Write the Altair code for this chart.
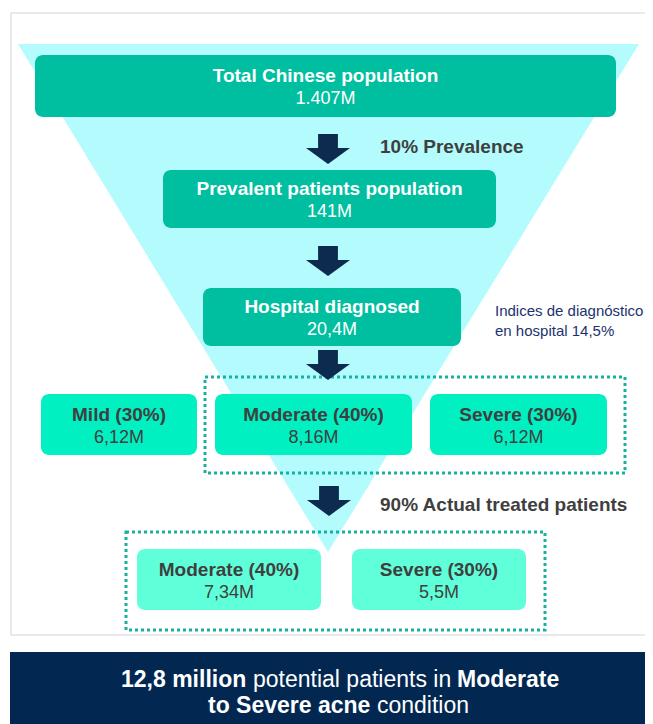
import altair as alt
import pandas as pd

# ---------------- content (values / labels) ----------------
main_titles = ["Total Chinese population", "Prevalent patients population", "Hospital diagnosed"]
main_values = ["1.407M", "141M", "20,4M"]
severity_titles = ["Mild (30%)", "Moderate (40%)", "Severe (30%)"]
severity_values = ["6,12M", "8,16M", "6,12M"]
treated_titles = ["Moderate (40%)", "Severe (30%)"]
treated_values = ["7,34M", "5,5M"]
step_labels = ["10% Prevalence", "90% Actual treated patients"]
note_lines = ["Indices de diagnóstico", "en hospital 14,5%"]
banner_line1 = ["12,8 million", "potential patients in", "Moderate"]
banner_line1_bold = [True, False, True]
banner_line2 = ["to Severe acne", "condition"]
banner_line2_bold = [True, False]

# ---------------- layout (reference pixel frame) ----------------
main_x1 = [35, 163, 203]
main_x2 = [616, 496, 461]
main_y1 = [55, 170, 288]
main_y2 = [117, 228, 346]
sev_x1 = [41, 215, 430]
sev_x2 = [197, 412, 607]
sev_y1, sev_y2 = 394, 455
trt_x1 = [137, 352]
trt_x2 = [321, 526]
trt_y1, trt_y2 = 549, 610
arrow_x = [328, 328, 328, 329]
arrow_y = [149, 261, 365, 501]
step_x = [380, 380]
step_y = [153, 511]
note_x = 495
note_y = [316, 336]
b1_x = [121, 253, 457]
b2_x = [208, 377]
b_y = [687, 713]

FONT = "Liberation Sans"
TEAL = "#00BFA0"
AQUA = "#00F0C2"
MINT = "#5FFFDA"
CYAN = "#B3FBFC"
DOT = "#17B19E"
NAVY_ARROW = "#0C2B4F"
GRAY_TXT = "#3F3F3F"
NOTE_TXT = "#1C3370"
BANNER = "#022852"

W, H = 637, 716
xs = alt.Scale(domain=[8, 8 + W], nice=False, zero=False)
ys = alt.Scale(domain=[8, 8 + H], nice=False, zero=False, reverse=True)

def X(f="x"):
    return alt.X(f"{f}:Q", scale=xs, axis=None)

def Y(f="y"):
    return alt.Y(f"{f}:Q", scale=ys, axis=None)

# ---------------- boxes ----------------
rows = []
for t, v, a, b, c, d in zip(main_titles, main_values, main_x1, main_x2, main_y1, main_y2):
    rows.append(dict(title=t, value=v, x=a, x2=b, y=c, y2=d, fill=TEAL, tc="#FFFFFF"))
for t, v, a, b in zip(severity_titles, severity_values, sev_x1, sev_x2):
    rows.append(dict(title=t, value=v, x=a, x2=b, y=sev_y1, y2=sev_y2, fill=AQUA, tc=GRAY_TXT))
for t, v, a, b in zip(treated_titles, treated_values, trt_x1, trt_x2):
    rows.append(dict(title=t, value=v, x=a, x2=b, y=trt_y1, y2=trt_y2, fill=MINT, tc=GRAY_TXT))
boxes = pd.DataFrame(rows)
boxes["cx"] = (boxes.x + boxes.x2) / 2
boxes["cy"] = (boxes.y + boxes.y2) / 2
boxes["ty"] = boxes.cy - 4
boxes["vy"] = boxes.cy + 18

frame = alt.Chart(pd.DataFrame([dict(x=11, x2=700, y=13, y2=635)])).mark_rect(
    fill="#FFFFFF", stroke="#EAEAEA", strokeWidth=2, clip=True
).encode(x=X(), x2="x2:Q", y=Y(), y2="y2:Q")

tri = alt.Chart(pd.DataFrame(dict(x=[18, 328, 639], y=[44, 44, 44], y2=[44, 552, 44]))).mark_area(
    color=CYAN, opacity=1, interpolate="linear"
).encode(x=X(), y=Y(), y2="y2:Q")

dotted = alt.Chart(pd.DataFrame(dict(x=[205, 126], x2=[625, 545], y=[377, 532], y2=[473, 630]))).mark_rect(
    fillOpacity=0, stroke=DOT, strokeWidth=3, strokeDash=[3, 3]
).encode(x=X(), x2="x2:Q", y=Y(), y2="y2:Q")

box_rects = alt.Chart(boxes).mark_rect(cornerRadius=8).encode(
    x=X(), x2="x2:Q", y=Y(), y2="y2:Q", fill=alt.Fill("fill:N", scale=None)
)

box_titles = alt.Chart(boxes).mark_text(
    font=FONT, fontSize=19, fontWeight="bold", align="center", baseline="alphabetic"
).encode(x=X("cx"), y=Y("ty"), text="title:N", color=alt.Color("tc:N", scale=None))

box_vals = alt.Chart(boxes).mark_text(
    font=FONT, fontSize=18, align="center", baseline="alphabetic"
).encode(x=X("cx"), y=Y("vy"), text="value:N", color=alt.Color("tc:N", scale=None))

arrow_path = ("M -0.45 -0.68 L 0.45 -0.68 L 0.45 -0.05 L 1 -0.05 "
              "L 0 0.68 L -1 -0.05 L -0.45 -0.05 Z")
arrows = alt.Chart(pd.DataFrame(dict(x=arrow_x, y=arrow_y))).mark_point(
    shape=arrow_path, size=44 * 44, filled=True, color=NAVY_ARROW, opacity=1, strokeWidth=0
).encode(x=X(), y=Y())

steps = alt.Chart(pd.DataFrame(dict(x=step_x, y=step_y, t=step_labels))).mark_text(
    font=FONT, fontSize=19, fontWeight="bold", color=GRAY_TXT, align="left", baseline="alphabetic"
).encode(x=X(), y=Y(), text="t:N")

note = alt.Chart(pd.DataFrame(dict(x=[note_x] * 2, y=note_y, t=note_lines))).mark_text(
    font=FONT, fontSize=15, color=NOTE_TXT, align="left", baseline="alphabetic"
).encode(x=X(), y=Y(), text="t:N")

banner = alt.Chart(pd.DataFrame([dict(x=10, x2=700, y=652, y2=760)])).mark_rect(
    color=BANNER, clip=True
).encode(x=X(), x2="x2:Q", y=Y(), y2="y2:Q")

bt = pd.DataFrame(dict(
    x=b1_x + b2_x,
    y=[b_y[0]] * len(b1_x) + [b_y[1]] * len(b2_x),
    t=banner_line1 + banner_line2,
    bold=banner_line1_bold + banner_line2_bold,
))
banner_bold = alt.Chart(bt[bt.bold]).mark_text(
    font=FONT, fontSize=23, fontWeight="bold", color="#FFFFFF", align="left", baseline="alphabetic"
).encode(x=X(), y=Y(), text="t:N")
banner_reg = alt.Chart(bt[~bt.bold]).mark_text(
    font=FONT, fontSize=23, color="#FFFFFF", align="left", baseline="alphabetic"
).encode(x=X(), y=Y(), text="t:N")

chart = alt.layer(
    frame, tri, dotted, box_rects, box_titles, box_vals, arrows, steps, note,
    banner, banner_bold, banner_reg
).properties(
    width=W, height=H, padding=0, autosize=alt.AutoSizeParams(type="none")
).configure_view(stroke=None)

chart.save("out.html", embed_options={"renderer": "svg", "actions": False})
